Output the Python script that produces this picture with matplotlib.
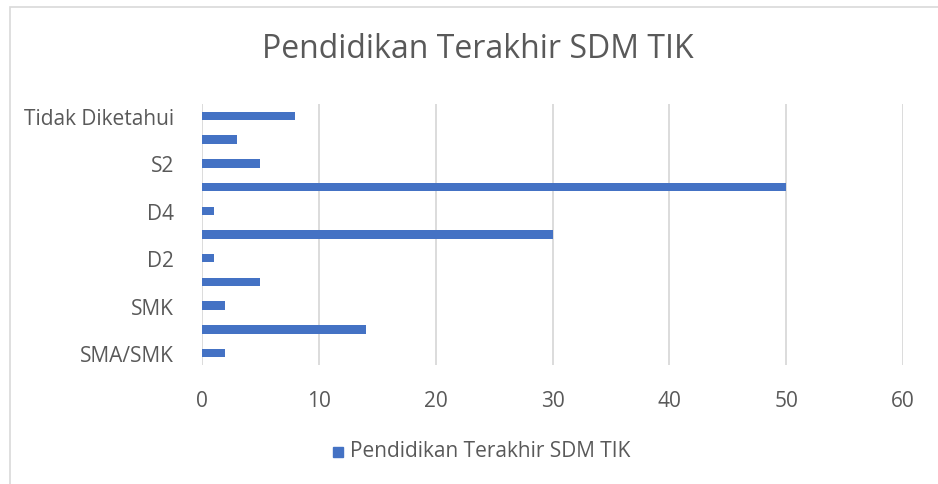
import matplotlib
matplotlib.use("Agg")
import matplotlib.pyplot as plt
from matplotlib.patches import Rectangle

# jenjang pendidikan, dari bawah ke atas
kategori = ["SMA/SMK", "SMA", "SMK", "D1", "D2", "D3", "D4", "S1", "S2", "S3", "Tidak Diketahui"]
jumlah = [2, 14, 2, 5, 1, 30, 1, 50, 5, 3, 8]
x_ticks = [0, 10, 20, 30, 40, 50, 60]

judul = "Pendidikan Terakhir SDM TIK"
warna_bar = "#4472C4"
warna_teks = "#595959"

plt.rcParams['font.family'] = ['Open Sans', 'DejaVu Sans']

fig = plt.figure(figsize=(9.38, 4.85), dpi=100)
W, H = 938, 485

# bingkai area grafik (kanan dan bawah terpotong)
fig.patches.append(Rectangle((10 / W, -0.1), 1.2, 1.1 - 8 / H, transform=fig.transFigure,
                             fill=False, edgecolor="#d9d9d9", linewidth=1.2))

ax = fig.add_axes([202 / W, 1 - 366 / H, (903 - 202) / W, (366 - 105) / H])

pos = list(range(len(kategori)))
ax.barh(pos, jumlah, height=0.36, color=warna_bar, zorder=3)

ax.set_xlim(0, 60)
ax.set_ylim(-0.5, len(kategori) - 0.5)
ax.set_xticks(x_ticks)
ax.set_xticklabels([str(t) for t in x_ticks])
# hanya setiap label kedua yang muat
ax.set_yticks(pos[::2])
ax.set_yticklabels(kategori[::2])

ax.grid(axis="x", color="#d9d9d9", linewidth=1.3, zorder=0)
for s in ax.spines.values():
    s.set_visible(False)
ax.tick_params(axis="both", length=0, labelsize=15, colors=warna_teks)
ax.tick_params(axis="x", pad=18)
ax.tick_params(axis="y", pad=20)

fig.text(478 / W, 1 - 50 / H, judul, ha="center", va="center",
         fontsize=23, color=warna_teks)

# legenda
fig.patches.append(Rectangle((333 / W, 1 - 458 / H), 10 / W, 10 / H,
                             transform=fig.transFigure, color=warna_bar))
fig.text(350 / W, 1 - 452 / H, judul, ha="left", va="center",
         fontsize=15, color=warna_teks)

fig.savefig("out.png", dpi=100)
